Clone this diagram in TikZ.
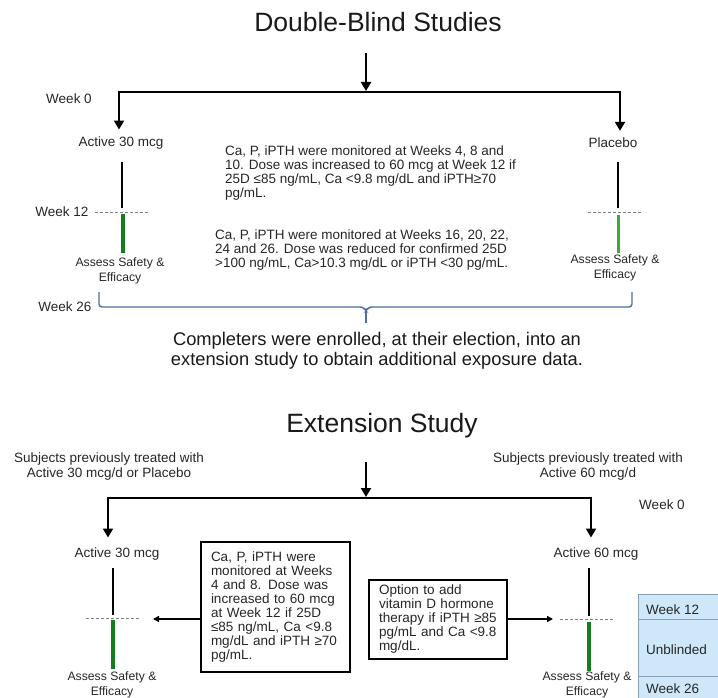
\documentclass[tikz,border=0pt]{standalone}
\usepackage{fontspec}
\setmainfont{Liberation Sans}
\usetikzlibrary{arrows.meta}
\definecolor{barg}{RGB}{20,125,30}
\definecolor{barlight}{RGB}{60,170,60}
\definecolor{braceb}{RGB}{79,109,160}
\definecolor{sidef}{RGB}{206,232,250}
\definecolor{sideb}{RGB}{140,160,180}
\tikzset{
  lbl/.style={inner sep=0pt, text=black!85, font=\fontsize{13.5}{14}\selectfont},
  para/.style={lbl, align=left, anchor=north west},
  assess/.style={inner sep=0pt, align=center, text=black!85, font=\fontsize{12.2}{15}\selectfont},
  heading/.style={inner sep=0pt, text=black!90, font=\fontsize{26.5}{30}\selectfont},
  flow/.style={line width=2pt, -{Triangle[width=10pt,length=9pt]}},
  stem/.style={line width=1.6pt},
  wkline/.style={gray, line width=0.8pt, dash pattern=on 3pt off 2pt},
  bar/.style={draw=barg, line width=3.8pt},
  note/.style={draw, line width=1.5pt, inner xsep=10pt, inner ysep=0pt, align=left,
    text=black!85, font=\fontsize{13.5}{14}\selectfont},
  side/.style={draw=sideb, fill=sidef, line width=0.8pt},
  pointer/.style={line width=1.5pt, -{Triangle[width=6pt,length=6pt]}}
}
\begin{document}
\begin{tikzpicture}[x=1pt,y=-1pt]
  \useasboundingbox (0,0) rectangle (718,698);
  % double-blind part
  \node[heading] (dbtitle) at (378,22) {Double-Blind Studies};
  \coordinate (dbin) at (366,53);
  \coordinate (dbfork) at (366,92);
  \coordinate (dbleft) at (119,92);
  \coordinate (dbright) at (620,92);
  \node[lbl] (wk0top) at (69,99) {Week 0};
  \node[lbl] (act30top) at (121,143) {Active 30 mcg};
  \node[lbl] (placebo) at (613,143) {Placebo};
  \draw[flow, shorten >=1pt] (dbin) -- (dbfork);
  \draw[flow, shorten >=7pt] (dbfork) -| (dbleft |- act30top.north);
  \draw[flow, shorten >=7pt] (dbfork) -| (dbright |- placebo.north);
  \coordinate (wk12a) at (122,212);
  \coordinate (wk12b) at (618,212);
  \node[lbl] (wk12top) at (62,212) {Week 12};
  \draw[wkline] (95,212) -- (150,212);
  \draw[wkline] (588,212) -- (642,212);
  \draw[stem] (122,162) -- (122,208);
  \draw[stem] (618,162) -- (618,208);
  \draw[bar] (123,214) -- (123,253);
  \draw[bar, draw=barlight, line width=3pt] (618,215) -- (618,253);
  \node[assess] (assessA) at (120,271) {Assess Safety \&\\Efficacy};
  \node[assess] (assessB) at (615,268) {Assess Safety \&\\Efficacy};
  \node[para] (monA) at (225,146) {Ca, P, iPTH were monitored at Weeks 4, 8 and\\
    10. Dose was increased to 60 mcg at Week 12 if\\
    25D ≤85 ng/mL, Ca <9.8 mg/dL and iPTH≥70\\
    pg/mL.};
  \node[para] (monB) at (215,230) {Ca, P, iPTH were monitored at Weeks 16, 20, 22,\\
    24 and 26. Dose was reduced for confirmed 25D\\
    >100 ng/mL, Ca>10.3 mg/dL or iPTH <30 pg/mL.};
  \node[lbl] (wk26top) at (65,307) {Week 26};
  \draw[braceb, line width=1.4pt, rounded corners=3pt]
    (99,292) -- (99,307) -- (363,307) -- (366,311) -- (369,307) -- (632,307) -- (632,292);
  \draw[braceb, line width=1.4pt] (366,309) -- (366,323);
  \node[inner sep=0pt, align=center, text=black!90, font=\fontsize{18.3}{20}\selectfont]
    (completers) at (377,351) {Completers were enrolled, at their election, into an\\
    extension study to obtain additional exposure data.};
  % extension part
  \node[heading] (extitle) at (382,426) {Extension Study};
  \coordinate (exin) at (366,462);
  \coordinate (exfork) at (366,498);
  \coordinate (exleft) at (108,498);
  \coordinate (exright) at (591,498);
  \node[lbl, align=center, font=\fontsize{13.5}{15}\selectfont] (prevA) at (109,467) {Subjects previously treated with\\Active 30 mcg/d or Placebo};
  \node[lbl, align=center, font=\fontsize{13.5}{15}\selectfont] (prevB) at (588,467) {Subjects previously treated with\\Active 60 mcg/d};
  \node[lbl] (wk0bot) at (662,505) {Week 0};
  \node[lbl] (act30bot) at (117,554) {Active 30 mcg};
  \node[lbl] (act60bot) at (596,554) {Active 60 mcg};
  \draw[flow, shorten >=1pt] (exin) -- (exfork);
  \draw[flow, shorten >=10pt] (exfork) -| (exleft |- act30bot.north);
  \draw[flow, shorten >=10pt] (exfork) -| (exright |- act60bot.north);
  \draw[stem] (113,568) -- (113,615);
  \draw[stem] (589,568) -- (589,616);
  \draw[wkline] (86,618) -- (139,618);
  \draw[wkline] (560,619) -- (615,619);
  \draw[bar] (113,620) -- (113,669);
  \draw[bar] (589,622) -- (589,671);
  \node[assess] (assessC) at (112,685) {Assess Safety \&\\Efficacy};
  \node[assess] (assessD) at (587,685) {Assess Safety \&\\Efficacy};
  \node[note, minimum width=149pt, minimum height=130pt, text width=129pt] (boxA) at (275.5,607)
    {Ca, P, iPTH were\\monitored at Weeks\\4 and 8. Dose was\\increased to 60 mcg\\at Week 12 if 25D\\≤85 ng/mL, Ca <9.8\\mg/dL and iPTH ≥70\\pg/mL.};
  \node[note, minimum width=138pt, minimum height=79pt, text width=118pt] (boxB) at (438,619.5)
    {Option to add\\vitamin D hormone\\therapy if iPTH ≥85\\pg/mL and Ca <9.8\\mg/dL.};
  \coordinate (tipA) at (153,619);
  \coordinate (tipB) at (553,619);
  \draw[pointer] (boxA.west |- tipA) -- (tipA);
  \draw[pointer] (boxB.east |- tipB) -- (tipB);
  \path[side] (638,594) rectangle (724,619);
  \path[side] (638,619) rectangle (724,676);
  \path[side] (638,676) rectangle (724,702);
  \node[lbl, anchor=west] (wk12side) at (646,610) {Week 12};
  \node[lbl, anchor=west] (unblind) at (646,650) {Unblinded};
  \node[lbl, anchor=west] (wk26side) at (646,689) {Week 26};
\end{tikzpicture}
\end{document}
